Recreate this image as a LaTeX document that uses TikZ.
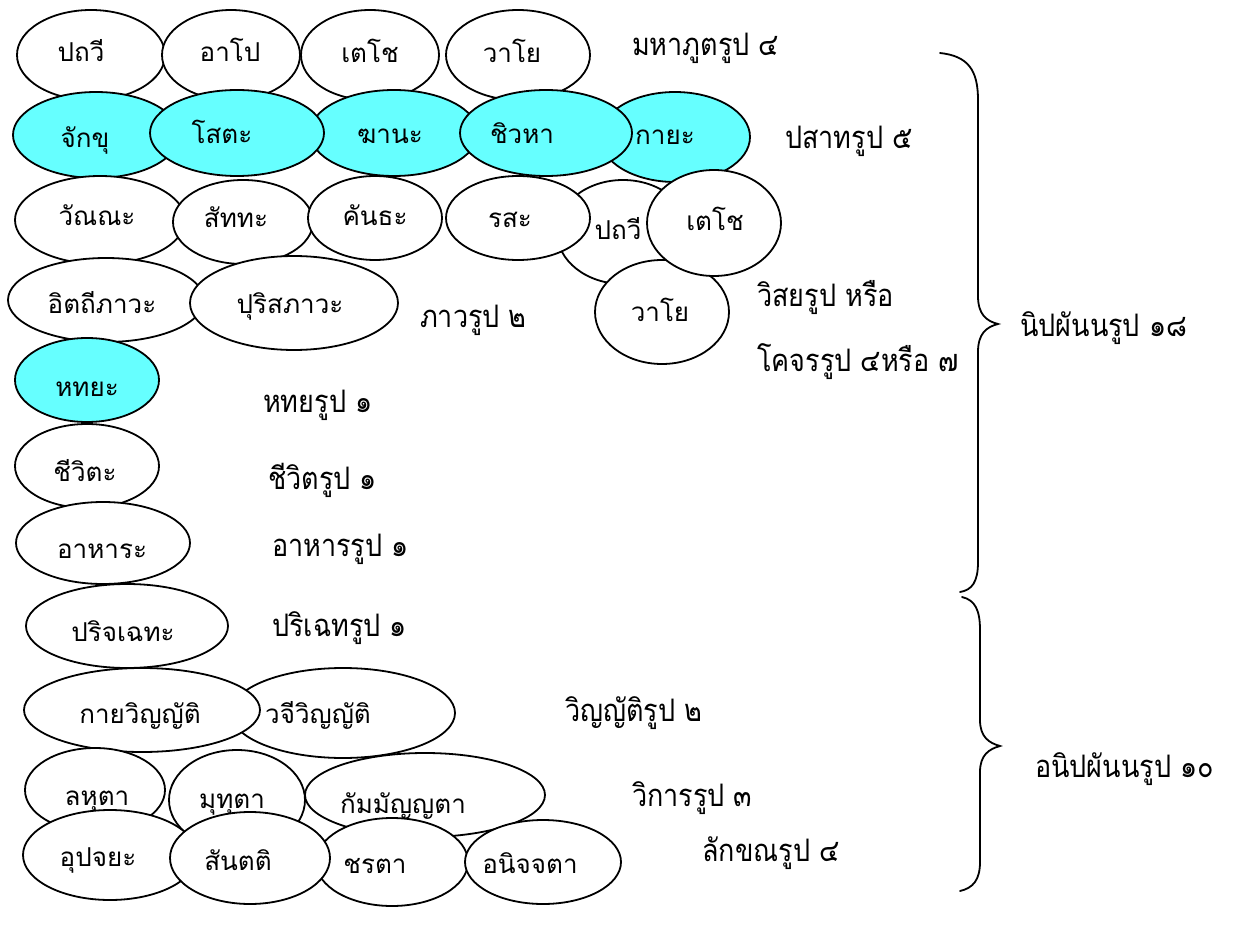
\documentclass[tikz,border=0pt]{standalone}
\usepackage{fontspec}
\newfontfamily\thaifont[Script=Thai]{Loma}
\newfontfamily\thailab[Script=Thai,FakeStretch=0.87]{Loma}
\usetikzlibrary{shapes.geometric}
\definecolor{cyanfill}{RGB}{102,255,255}
\tikzset{
  ov/.style={ellipse, draw=black, line width=1.8pt, fill=white, inner sep=0pt},
  ovc/.style={ov, fill=cyanfill},
  tx/.style={anchor=base, inner sep=0pt, font=\thaifont\fontsize{26}{30}\selectfont},
  lb/.style={anchor=base west, inner sep=0pt, font=\thailab\fontsize{31}{36}\selectfont},
  brace/.style={line width=1.8pt, line cap=round}
}
\begin{document}
\begin{tikzpicture}[x=1pt,y=-1pt]
\useasboundingbox (0,0) rectangle (1242,933);
% row 1
\node[ov, minimum width=148pt, minimum height=90pt] (a1) at (91,55) {};
\node[tx] (t1) at (81,62) {ปถวี};
\node[ov, minimum width=138pt, minimum height=90pt] (a2) at (231,55) {};
\node[tx] (t2) at (230,62) {อาโป};
\node[ov, minimum width=138pt, minimum height=90pt] (a3) at (370,55) {};
\node[tx] (t3) at (370,63) {เตโช};
\node[ov, minimum width=144pt, minimum height=90pt] (a4) at (518,55) {};
\node[tx] (t4) at (512,63) {วาโย};
\node[lb] (l1) at (632,56) {มหาภูตรูป ๔};
% row 2 (cyan)
\node[ovc, minimum width=166pt, minimum height=86pt] (b1) at (96,135) {};
\node[tx] (u1) at (85,148) {จักขุ};
\node[ovc, minimum width=168pt, minimum height=86pt] (b3) at (394,133) {};
\node[tx] (u3) at (390,144) {ฆานะ};
\node[ovc, minimum width=150pt, minimum height=90pt] (b5) at (675,137) {};
\node[tx] (u5) at (665,145) {กายะ};
\node[ovc, minimum width=174pt, minimum height=86pt] (b2) at (237,133) {};
\node[tx] (u2) at (222,144) {โสตะ};
\node[ovc, minimum width=172pt, minimum height=86pt] (b4) at (546,133) {};
\node[tx] (u4) at (522,144) {ชิวหา};
\node[lb] (l2) at (785,149) {ปสาทรูป ๕};
% row 3
\node[ov, minimum width=132pt, minimum height=104pt] (c5) at (623,232) {};
\node[tx] (v5) at (618,240) {ปถวี};
\node[ov, minimum width=170pt, minimum height=88pt] (c1) at (100,220) {};
\node[tx] (v1) at (97,226) {วัณณะ};
\node[ov, minimum width=140pt, minimum height=84pt] (c2) at (243,222) {};
\node[tx] (v2) at (236,228) {สัททะ};
\node[ov, minimum width=134pt, minimum height=84pt] (c3) at (375,218) {};
\node[tx] (v3) at (375,226) {คันธะ};
\node[ov, minimum width=144pt, minimum height=84pt] (c4) at (518,218) {};
\node[tx] (v4) at (510,228) {รสะ};
\node[ov, minimum width=134pt, minimum height=104pt] (c7) at (662,312) {};
\node[tx] (v7) at (660,321) {วาโย};
\node[ov, minimum width=134pt, minimum height=106pt] (c6) at (714,223) {};
\node[tx] (v6) at (715,231) {เตโช};
\node[lb] (l3a) at (757,306) {วิสยรูป หรือ};
\node[lb] (l3b) at (757,371) {โคจรรูป ๔หรือ ๗};
% row 4
\node[ov, minimum width=196pt, minimum height=84pt] (d1) at (106,300) {};
\node[tx] (w1) at (102,313) {อิตถีภาวะ};
\node[ov, minimum width=208pt, minimum height=94pt] (d2) at (294,303) {};
\node[tx] (w2) at (290,313) {ปุริสภาวะ};
\node[lb] (l4) at (420,327) {ภาวรูป ๒};
% single rows
\node[ovc, minimum width=144pt, minimum height=84pt] (e1) at (87,380) {};
\node[tx] (x1) at (87,396) {หทยะ};
\node[lb] (l5) at (263,412) {หทยรูป ๑};
\node[ov, minimum width=144pt, minimum height=84pt] (f1) at (87,466) {};
\node[tx] (y1) at (85,481) {ชีวิตะ};
\node[lb] (l6) at (268,489) {ชีวิตรูป ๑};
\node[ov, minimum width=174pt, minimum height=82pt] (g1) at (103,543) {};
\node[tx] (z1) at (102,558) {อาหาระ};
\node[lb] (l7) at (272,556) {อาหารรูป ๑};
\node[ov, minimum width=202pt, minimum height=84pt] (h1) at (127,626) {};
\node[tx] (p1) at (123,641) {ปริจเฉทะ};
\node[lb] (l8) at (272,636) {ปริเฉทรูป ๑};
% vinnatti
\node[ov, minimum width=224pt, minimum height=90pt] (i2) at (343,713) {};
\node[tx] (q2) at (318,723) {วจีวิญญัติ};
\node[ov, minimum width=236pt, minimum height=84pt] (i1) at (142,710) {};
\node[tx] (q1) at (140,723) {กายวิญญัติ};
\node[lb] (l9) at (565,721) {วิญญัติรูป ๒};
% vikara
\node[ov, minimum width=140pt, minimum height=84pt] (j1) at (95,790) {};
\node[tx] (r1) at (97,805) {ลหุตา};
\node[ov, minimum width=240pt, minimum height=84pt] (j3) at (425,795) {};
\node[tx] (r3) at (403,813) {กัมมัญญตา};
\node[ov, minimum width=136pt, minimum height=100pt] (j2) at (237,800) {};
\node[tx] (r2) at (232,808) {มุทุตา};
\node[lb] (l10) at (632,806) {วิการรูป ๓};
% lakkhana
\node[ov, minimum width=174pt, minimum height=90pt] (k1) at (110,855) {};
\node[tx] (s1) at (98,866) {อุปจยะ};
\node[ov, minimum width=152pt, minimum height=88pt] (k3) at (392,862) {};
\node[tx] (s3) at (375,873) {ชรตา};
\node[ov, minimum width=156pt, minimum height=84pt] (k4) at (543,862) {};
\node[tx] (s4) at (530,873) {อนิจจตา};
\node[ov, minimum width=160pt, minimum height=92pt] (k2) at (250,858) {};
\node[tx] (s2) at (238,870) {สันตติ};
\node[lb] (l11) at (702,861) {ลักขณรูป ๔};
% braces
\coordinate (ba) at (940,53);
\coordinate (bm) at (998,324);
\coordinate (bb) at (960,592);
\draw[brace] (ba) .. controls (968,56) and (978,70) .. (978,100) -- (978,296)
  .. controls (978,314) and (986,321) .. (bm)
  .. controls (986,327) and (978,334) .. (978,352) -- (978,562)
  .. controls (978,582) and (972,590) .. (bb);
\coordinate (ca) at (962,597);
\coordinate (cm) at (1000,746);
\coordinate (cb) at (960,891);
\draw[brace] (ca) .. controls (975,600) and (980,610) .. (980,630) -- (980,720)
  .. controls (980,737) and (989,743) .. (cm)
  .. controls (989,749) and (980,755) .. (980,772) -- (980,862)
  .. controls (980,880) and (973,888) .. (cb);
\node[lb] (n1) at (1020,336) {นิปผันนรูป ๑๘};
\node[lb] (n2) at (1035,777) {อนิปผันนรูป ๑๐};
\end{tikzpicture}
\end{document}
